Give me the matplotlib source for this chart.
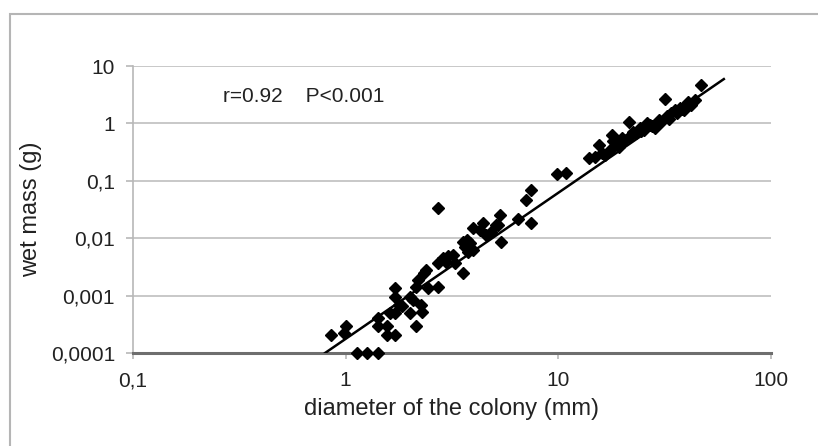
import numpy as np
import matplotlib
matplotlib.use("Agg")
import matplotlib.pyplot as plt
from matplotlib.patches import Rectangle
from matplotlib.ticker import FixedLocator, FixedFormatter, NullLocator

plt.rcParams['font.family'] = ['Liberation Sans', 'DejaVu Sans']

# colony diameter (mm)
diameter = [0.85, 1.0, 0.98, 1.13, 1.26, 1.42, 1.42, 1.42, 1.56, 1.56,
            1.71, 1.61, 1.71, 1.70, 1.70, 1.79, 1.85, 2.0, 2.0, 2.13,
            2.15, 2.19, 2.27, 2.29, 2.07, 2.39, 2.44, 2.33, 2.72, 2.72,
            2.72, 2.87, 3.03, 3.2, 2.95, 3.26, 3.57, 3.57, 3.7, 3.83,
            3.63, 3.97, 3.75, 3.97, 4.27, 4.42, 4.58, 4.84, 5.11, 5.3,
            5.2, 5.35, 6.46, 7.08, 7.47, 7.47,
            9.85, 10.9, 13.9, 15.6, 14.8, 16.5, 17.8, 17.5, 18.8, 19.3,
            20.4, 21.6, 21.6, 23.1, 24.1, 25.4, 26.9, 28.4, 29.9, 31.6,
            32.6, 35.2, 37.2, 40.5, 43.7, 47.0, 39.0, 16.0, 20.0, 26.0,
            34.0, 18.0, 22.5, 24.5, 27.5, 30.5, 33.0, 36.0, 38.0, 42.0]
# wet mass (g)
wet_mass = [0.00021, 0.0003, 0.00022, 0.0001, 0.0001, 0.0001, 0.00041, 0.0003, 0.0003, 0.00021,
            0.00021, 0.00049, 0.00049, 0.00134, 0.00096, 0.00069, 0.00065, 0.00096, 0.00049, 0.0003,
            0.00143, 0.0019, 0.00069, 0.00052, 0.00084, 0.0028, 0.00134, 0.00245, 0.033, 0.00143,
            0.0037, 0.0045, 0.0048, 0.0051, 0.0039, 0.0037, 0.00245, 0.0087, 0.0093, 0.0081,
            0.0071, 0.0062, 0.0058, 0.0149, 0.0139, 0.0182, 0.0114, 0.013, 0.017, 0.025,
            0.017, 0.0087, 0.022, 0.046, 0.069, 0.0186,
            0.131, 0.138, 0.247, 0.42, 0.26, 0.28, 0.63, 0.34, 0.45, 0.39,
            0.51, 1.07, 0.59, 0.68, 0.82, 0.77, 0.94, 0.83, 1.15, 2.66,
            1.35, 1.71, 1.85, 2.36, 2.56, 4.67, 1.71, 0.3, 0.55, 1.0,
            1.5, 0.5, 0.7, 0.75, 0.9, 1.05, 1.2, 1.5, 1.8, 2.1]

# regression line (power law) endpoints
fit_x = [0.8, 60.0]
fit_slope = 2.545
fit_intercept = -4.0 - 2.545 * np.log10(0.8)

x_ticks = [0.1, 1, 10, 100]
x_labels = ["0,1", "1", "10", "100"]
y_ticks = [0.0001, 0.001, 0.01, 0.1, 1, 10]
y_labels = ["0,0001", "0,001", "0,01", "0,1", "1", "10"]

W, H = 818, 446
fig = plt.figure(figsize=(W / 100, H / 100), dpi=100)
fig.patch.set_facecolor("white")
ax = fig.add_axes([133/W, 1 - 353/H, (771 - 133)/W, (353 - 66)/H])
ax.set_xscale("log")
ax.set_yscale("log")
ax.set_xlim(0.1, 100)
ax.set_ylim(0.0001, 10)

for yt in y_ticks[1:]:
    ax.axhline(yt, color="#c4c4c4", lw=1.3, zorder=0)

fx = np.array(fit_x)
fy = 10 ** (fit_intercept + fit_slope * np.log10(fx))
ax.plot(fx, fy, color="black", lw=1.8, zorder=3)
ax.plot(diameter, wet_mass, linestyle="none", marker="D", ms=6.5,
        color="black", mec="black", zorder=4, clip_on=False)

ax.xaxis.set_major_locator(FixedLocator(x_ticks))
ax.xaxis.set_major_formatter(FixedFormatter(x_labels))
ax.yaxis.set_major_locator(FixedLocator(y_ticks))
ax.yaxis.set_major_formatter(FixedFormatter(y_labels))
ax.xaxis.set_minor_locator(NullLocator())
ax.yaxis.set_minor_locator(NullLocator())

for s in ["top", "right"]:
    ax.spines[s].set_visible(False)
ax.spines["left"].set_color("#b8b8b8")
ax.spines["left"].set_linewidth(1.2)
ax.spines["bottom"].set_color("#6e6e6e")
ax.spines["bottom"].set_linewidth(2.2)
ax.tick_params(axis="y", length=5, color="#b8b8b8", width=1.2, labelsize=15,
               labelcolor="#222222", pad=8)
ax.tick_params(axis="x", length=4, color="#b8b8b8", width=1.2, labelsize=15,
               labelcolor="#222222", pad=9)

ax.set_xlabel("diameter of the colony (mm)", fontsize=17, color="#222222", labelpad=6)
ax.set_ylabel("wet mass (g)", fontsize=17, color="#222222", labelpad=6)

ax.text(223, H - 97, "r=0.92    P<0.001", transform=None, fontsize=15,
        color="#222222", va="center", ha="left")

# outer frame
fig.add_artist(Rectangle((10/W, -0.05), 1.1, 1 - 14/H + 0.05,
                         transform=fig.transFigure, fill=False,
                         edgecolor="#b5b5b5", lw=1.5))

fig.savefig("out.png", dpi=100, facecolor="white")
